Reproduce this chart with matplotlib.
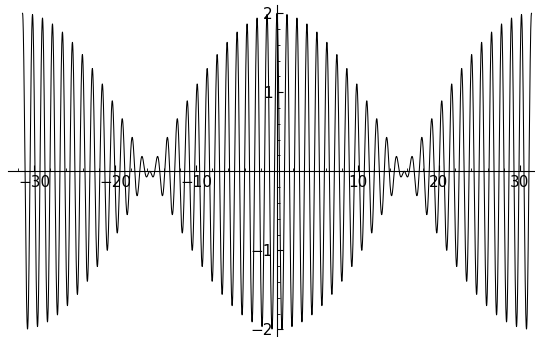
import numpy as np
import matplotlib
matplotlib.use("Agg")
import matplotlib.pyplot as plt
from matplotlib.ticker import FixedLocator

# curve: sum of two cosines (beat)
freqs = [5.0, 5.2]
x_start, x_end = -10 * np.pi, 10 * np.pi
n_samples = 20000

x_major = [-30, -20, -10, 10, 20, 30]
x_labels = ["\u221230", "\u221220", "\u221210", "10", "20", "30"]
y_major = [-2, -1, 1, 2]
y_labels = ["\u22122", "\u22121", "1", "2"]
x_minor = [v for v in range(-32, 32, 2) if v % 10 != 0]
y_minor = [round(v * 0.2, 1) for v in range(-10, 11) if v % 5 != 0]

x = np.linspace(x_start, x_end, n_samples)
y = sum(np.cos(f * x) for f in freqs)

W, H = 535, 337
fig = plt.figure(figsize=(W / 100, H / 100), dpi=100)
ax = fig.add_axes([0, 0, 1, 1])

# pixel layout of the reference
x0_px, x_scale = 277.0, 8.1
y0_px, y_scale = 171.3, 79.0
ax.set_xlim(-x0_px / x_scale, (W - x0_px) / x_scale)
ax.set_ylim((y0_px - H) / y_scale, y0_px / y_scale)

ax.plot(x, y, color="black", linewidth=0.75)

for s in ["top", "right"]:
    ax.spines[s].set_visible(False)
ax.spines["left"].set_position(("data", 0))
ax.spines["bottom"].set_position(("data", 0))
ax.spines["left"].set_bounds(-2.1, 2.1)
ax.spines["bottom"].set_bounds(-33.2, 31.7)
for s in ["left", "bottom"]:
    ax.spines[s].set_linewidth(0.8)

ax.set_xticks(x_major)
ax.set_xticklabels(x_labels)
ax.set_yticks(y_major)
ax.set_yticklabels(y_labels)
ax.xaxis.set_minor_locator(FixedLocator(x_minor))
ax.yaxis.set_minor_locator(FixedLocator(y_minor))

ax.tick_params(which="major", direction="in", length=4, width=0.8,
               labelsize=11, pad=3)
ax.tick_params(which="minor", direction="in", length=2, width=0.6)
ax.patch.set_visible(False)

fig.savefig("out.png", dpi=100)
